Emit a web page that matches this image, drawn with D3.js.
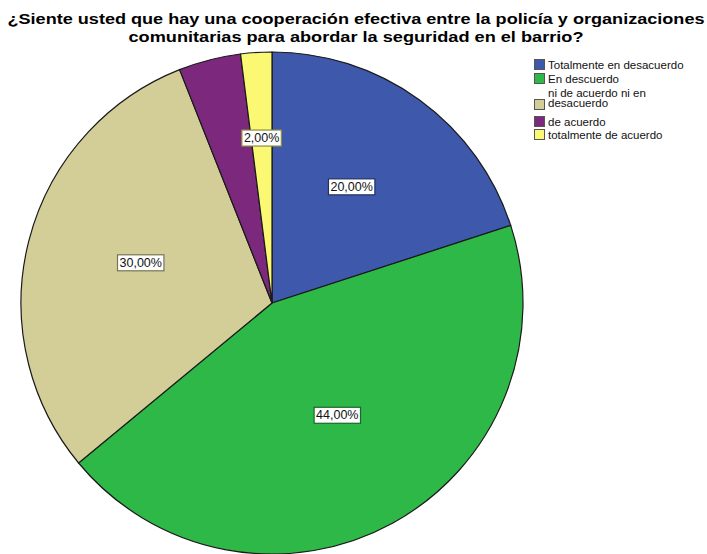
<!DOCTYPE html>
<html>
<head>
<meta charset="utf-8">
<script src="https://cdn.jsdelivr.net/npm/d3@7"></script>
<style>
  body { margin: 0; background: #fff; }
  svg { display: block; font-family: "Liberation Sans", Arial, sans-serif; }
</style>
</head>
<body>
<svg id="chart" width="707" height="554"></svg>
<script>
// datos del gráfico
var categories = ["Totalmente en desacuerdo", "En descuerdo", "ni de acuerdo ni en desacuerdo", "de acuerdo", "totalmente de acuerdo"];
var values = [20, 44, 30, 4, 2];
var labels = ["20,00%", "44,00%", "30,00%", "", "2,00%"];
var colors = ["#3e58ac", "#2eb848", "#d3ce97", "#7c287d", "#fbf873"];
var titleLines = ["¿Siente usted que hay una cooperación efectiva entre la policía y organizaciones", "comunitarias para abordar la seguridad en el barrio?"];

var svg = d3.select("#chart");

// título (ancho ajustado al original)
var titleW = [697, 455];
titleLines.forEach(function(line, i) {
  svg.append("text")
    .attr("x", 356).attr("y", 24 + i * 18)
    .attr("text-anchor", "middle")
    .attr("textLength", titleW[i]).attr("lengthAdjust", "spacingAndGlyphs")
    .style("font-size", "15.5px").style("font-weight", "bold")
    .text(line);
});

// pastel
var cx = 272, cy = 303, r = 251;
var pie = d3.pie().sort(null).value(function(d) { return d; });
var arcs = pie(values);
var arc = d3.arc().innerRadius(0).outerRadius(r);

var g = svg.append("g").attr("transform", "translate(" + cx + "," + cy + ")");
g.selectAll("path").data(arcs).enter().append("path")
  .attr("d", arc)
  .attr("fill", function(d, i) { return colors[i]; })
  .attr("stroke", "#1a1a1a").attr("stroke-width", 1.2);

// etiquetas
arcs.forEach(function(d, i) {
  if (!labels[i]) return;
  var frac = (d.endAngle - d.startAngle) / (2 * Math.PI);
  var lr = frac < 0.05 ? r * 0.66 : r * 0.54;
  var c = d3.arc().innerRadius(lr).outerRadius(lr).centroid(d);
  var lg = g.append("g").attr("transform", "translate(" + c[0] + "," + c[1] + ")");
  var t = lg.append("text")
    .attr("text-anchor", "middle").attr("dy", frac < 0.05 ? "0.35em" : "-0.2em")
    .style("font-size", "12.5px").attr("fill", "#111")
    .text(labels[i]);
  var bb = t.node().getBBox();
  lg.insert("rect", "text")
    .attr("x", bb.x - 2).attr("y", bb.y - 1)
    .attr("width", bb.width + 4).attr("height", bb.height + 2)
    .attr("fill", "#fff")
    .attr("stroke", d3.color(colors[i]).darker(1.6)).attr("stroke-width", 1.2);
});

// leyenda
var legendY = [59, 73, 99, 116, 129];
var legend = svg.append("g");
categories.forEach(function(name, i) {
  legend.append("rect")
    .attr("x", 534.5).attr("y", legendY[i] + 0.5)
    .attr("width", 10).attr("height", 10)
    .attr("fill", colors[i]).attr("stroke", "#555").attr("stroke-width", 1);
  var words = name === "ni de acuerdo ni en desacuerdo" ? ["ni de acuerdo ni en", "desacuerdo"] : [name];
  var ty = words.length > 1 ? legendY[i] - 2.5 : legendY[i] + 10;
  var t = legend.append("text").attr("x", 548).attr("y", ty)
    .style("font-size", "11.5px").attr("fill", "#111");
  words.forEach(function(w, k) {
    t.append("tspan").attr("x", 548).attr("dy", k ? 10.5 : 0).text(w);
  });
});
</script>
</body>
</html>
